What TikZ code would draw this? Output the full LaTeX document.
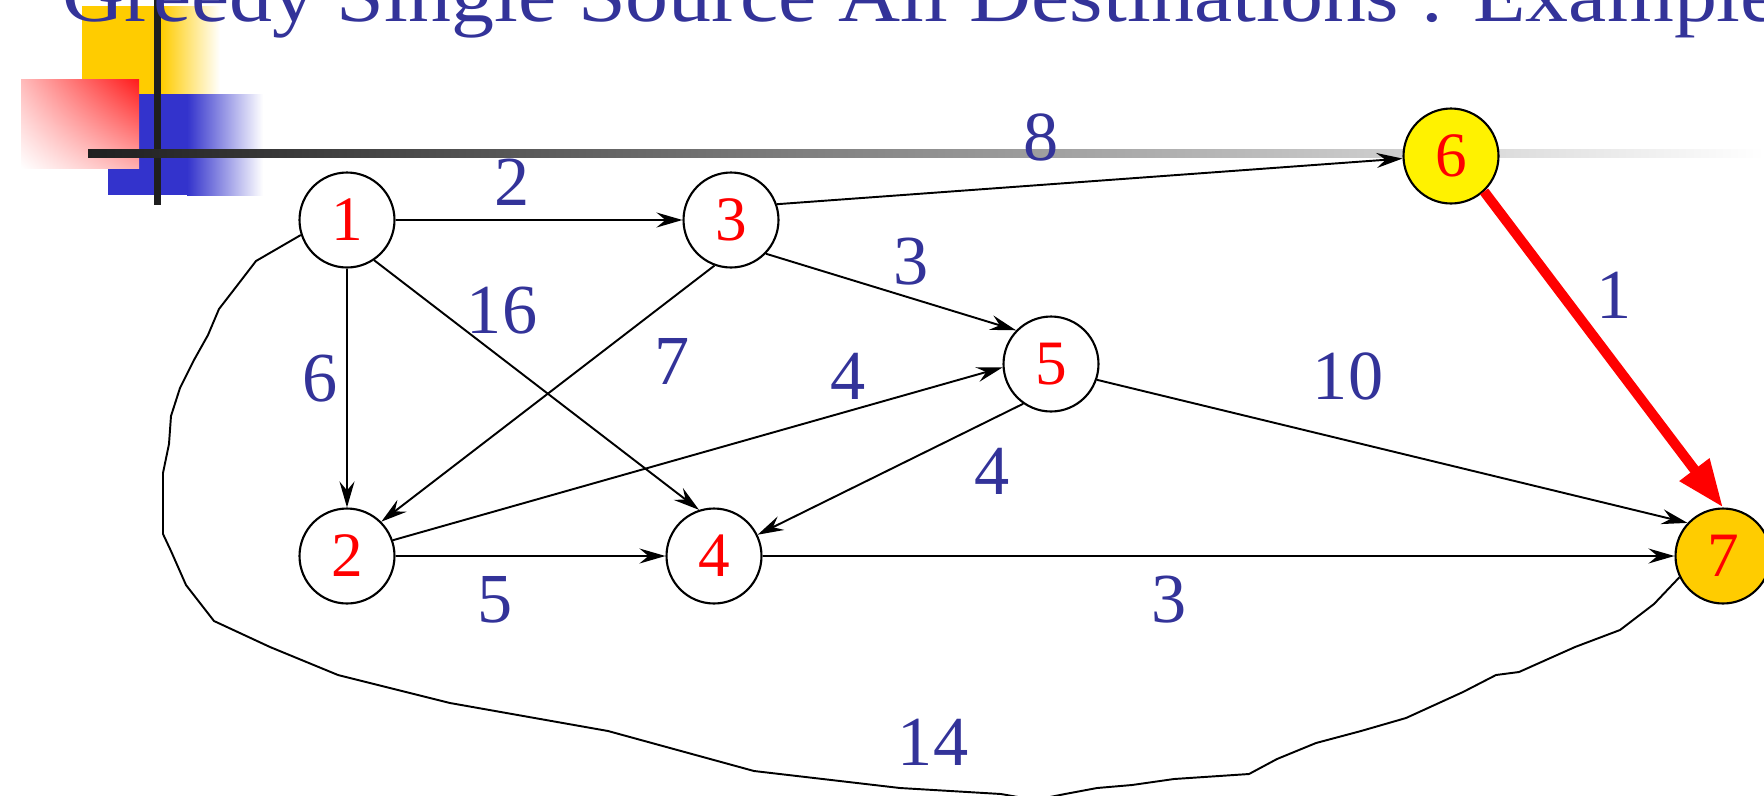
\documentclass[tikz,border=0pt]{standalone}
\usepackage{fontspec}
\setmainfont{Liberation Serif}
\newfontfamily\titlefont{Liberation Serif}[FakeStretch=1.112]
\usetikzlibrary{arrows.meta, shadings}

\definecolor{slideblue}{HTML}{333399}
\definecolor{decoyellow}{HTML}{FFCC00}
\definecolor{decoblue}{HTML}{3333CC}
\definecolor{decored}{HTML}{FF1A1A}
\definecolor{goldfill}{HTML}{FFCC00}
\definecolor{bardark}{HTML}{1F1F1F}

\begin{document}
\begin{tikzpicture}[
  x=0.02cm, y=-0.02cm,
  % Estilos de nodos
  vertex/.style={draw, circle, minimum size=1.9cm, inner sep=0pt, line width=1.2pt, fill=white, text=red, font=\fontsize{36}{40}\selectfont},
  weight/.style={text=slideblue, inner sep=0pt, font=\fontsize{40}{46}\selectfont},
  % Estilos de flechas
  link/.style={draw, -{Stealth[length=0.52cm, width=0.3cm, inset=0.18cm]}, line width=1.1pt},
  redlink/.style={draw=red, -{Triangle[length=0.95cm, width=0.7cm]}, line width=0.2cm},
  freeline/.style={draw, line width=1.1pt, line join=round}
]

  % Marco de la imagen
  \useasboundingbox (0,0) rectangle (1764,795);

  % ==========================================
  % SLIDE DECORATION
  % ==========================================
  \fill[decoyellow] (82,6) rectangle (161,95);
  \shade[left color=decoyellow, right color=white] (161,6) rectangle (220,95);
  \fill[decoblue] (108,94) rectangle (187,195);
  \shade[left color=decoblue, right color=white] (187,94) rectangle (263,195);
  \shade[upper left=decored!30!white, upper right=decored, lower left=white, lower right=decored!35!white] (21,79) rectangle (139,168);
  \fill[bardark] (154,0) rectangle (161,205);
  \shade[left color=bardark, right color=white] (88,149) rectangle (1764,157);

  \node[anchor=base west, inner sep=0pt, text=slideblue, font=\titlefont\fontsize{44}{50}\selectfont] (title) at (62,21) {Greedy Single Source All Destinations : Example};

  % ==========================================
  % VERTICES
  % ==========================================
  \node[vertex] (v1) at (347,220) {1};
  \node[vertex] (v2) at (347,556) {2};
  \node[vertex] (v3) at (731,220) {3};
  \node[vertex] (v4) at (714,556) {4};
  \node[vertex] (v5) at (1051,364) {5};
  \node[vertex, fill=yellow] (v6) at (1451,156) {6};
  \node[vertex, fill=goldfill] (v7) at (1723,556) {7};

  % ==========================================
  % EDGES
  % ==========================================
  \draw[link] (v1.east) -- (v3.west);
  \draw[link] (v3.19) -- (v6.183);
  \draw[link] (v3.-44) -- (v5.136);
  \draw[link] (v3.-110) -- (v2.45);
  \draw[link] (v1.-56) -- (v4.108);
  \draw[link] (v1.south) -- (v2.north);
  \draw[link] (v2.19) -- (v5.184);
  \draw[link] (v5.-125) -- (v4.26);
  \draw[link] (v5.-19) -- (v7.137);
  \draw[link] (v2.east) -- (v4.west);
  \draw[link] (v4.east) -- (v7.west);

  % Camino elegido 6 -> 7
  \draw[redlink] (v6.-47) -- (v7.north);

  % Arista 1 -> 7 a mano alzada
  \draw[freeline] (v1.198) -- (256,261) -- (236,287) -- (219,309) -- (208,335)
    -- (194,360) -- (180,388) -- (171,416) -- (169,444) -- (163,473)
    -- (163,534) -- (171,551) -- (186,585) -- (214,621) -- (270,647)
    -- (338,675) -- (450,703) -- (608,731) -- (754,771) -- (900,788)
    -- (1001,794) -- (1035,800) -- (1065,794) -- (1097,788) -- (1132,785)
    -- (1174,779) -- (1249,774) -- (1277,759) -- (1316,743) -- (1361,731)
    -- (1406,718) -- (1463,692) -- (1496,675) -- (1519,672) -- (1575,647)
    -- (1620,630) -- (1654,604) -- (v7.206);

  % ==========================================
  % WEIGHTS
  % ==========================================
  \node[weight] (w13) at (512,182) {2};
  \node[weight] (w36) at (1041,137) {8};
  \node[weight] (w35) at (911,262) {3};
  \node[weight] (w14) at (502,311) {16};
  \node[weight] (w32) at (672,361) {7};
  \node[weight] (w12) at (320,379) {6};
  \node[weight] (w25) at (848,376) {4};
  \node[weight] (w57) at (1348,376) {10};
  \node[weight] (w54) at (992,471) {4};
  \node[weight] (w67) at (1614,295) {1};
  \node[weight] (w24) at (495,600) {5};
  \node[weight] (w47) at (1169,600) {3};
  \node[weight] (w17) at (933,742) {14};

\end{tikzpicture}
\end{document}
